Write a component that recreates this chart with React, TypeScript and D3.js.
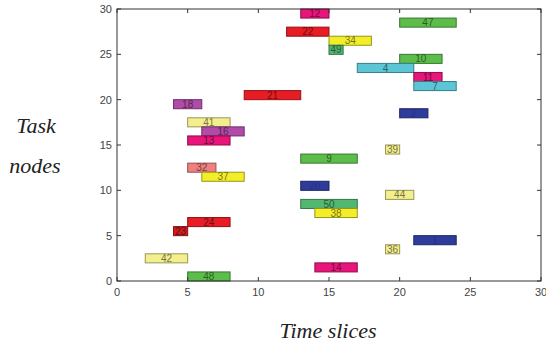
import React from "react";
import * as d3 from "d3";

// Task schedule: each task occupies one row (node) over a span of time slices
const taskIds = ["12", "22", "47", "34", "49", "10", "4", "11", "7", "21", "18", "2", "41", "16", "13", "39", "9", "32", "37", "20", "44", "50", "38", "24", "23", "1", "36", "42", "14", "48"];
const taskStart = [13, 12, 20, 15, 15, 20, 17, 21, 21, 9, 4, 20, 5, 6, 5, 19, 13, 5, 6, 13, 19, 13, 14, 5, 4, 21, 19, 2, 14, 5];
const taskEnd = [15, 15, 24, 18, 16, 23, 21, 23, 24, 13, 6, 22, 8, 9, 8, 20, 17, 7, 9, 15, 21, 17, 17, 8, 5, 24, 20, 5, 17, 8];
const taskNode = [29, 27, 28, 26, 25, 24, 23, 22, 21, 20, 19, 18, 17, 16, 15, 14, 13, 12, 11, 10, 9, 8, 7, 6, 5, 4, 3, 2, 1, 0];
const taskColor = [
  "#e8157a", "#e81c24", "#5cbd4a", "#f2ee2a", "#52b871", "#5cbd4a", "#5cc6d6", "#e8157a", "#5cc6d6", "#e81c24",
  "#b04ca8", "#2e3d9c", "#f3ef8c", "#b04ca8", "#e8157a", "#f3ef8c", "#5cbd4a", "#f08080", "#f2ee2a", "#2e3d9c",
  "#f3ef8c", "#52b871", "#f2ee2a", "#e81c24", "#d01c20", "#2e3d9c", "#f3ef8c", "#f3ef8c", "#e8157a", "#5cbd4a",
];
const xTicks = [0, 5, 10, 15, 20, 25, 30];
const yTicks = [0, 5, 10, 15, 20, 25, 30];

const W = 546;
const H = 349;
const left = 117;
const right = 541;
const top = 9;
const bottom = 281;

export default function App() {
  const x = d3.scaleLinear().domain([0, 30]).range([left, right]);
  const y = d3.scaleLinear().domain([0, 30]).range([bottom, top]);
  const tickLen = 4;
  const tickFont = "'Liberation Sans', Arial, sans-serif";
  const titleFont = "'Liberation Serif', 'Times New Roman', serif";

  return (
    <svg width={W} height={H} style={{ position: "absolute", left: 0, top: 0, background: "#fff" }}>
      <rect x={left} y={top} width={right - left} height={bottom - top} fill="#fff" />
      {taskIds.map((id, i) => {
        const c = d3.color(taskColor[i])!;
        const hsl = d3.hsl(taskColor[i]);
        // dark bars carry labels only slightly darker than the bar itself
        const labelColor = hsl.l < 0.45 ? c.darker(0.5).formatHex() : c.darker(2).formatHex();
        const x0 = x(taskStart[i]);
        const x1 = x(taskEnd[i]);
        const y0 = y(taskNode[i] + 1);
        const y1 = y(taskNode[i]);
        return (
          <g key={id}>
            <rect
              x={x0}
              y={y0}
              width={x1 - x0}
              height={y1 - y0}
              fill={taskColor[i]}
              stroke={c.darker(1.3).formatHex()}
              strokeWidth={1}
            />
            <text
              x={(x0 + x1) / 2}
              y={(y0 + y1) / 2 + 3.6}
              textAnchor="middle"
              fontFamily={tickFont}
              fontSize={10}
              fill={labelColor}
            >
              {id}
            </text>
          </g>
        );
      })}
      {/* box frame */}
      <rect x={left} y={top} width={right - left} height={bottom - top} fill="none" stroke="#333" strokeWidth={1} />
      {/* inward ticks on all four sides */}
      {xTicks.map((t) => (
        <g key={"x" + t}>
          <line x1={x(t)} x2={x(t)} y1={bottom} y2={bottom - tickLen} stroke="#333" />
          <line x1={x(t)} x2={x(t)} y1={top} y2={top + tickLen} stroke="#333" />
          <text x={x(t)} y={296} textAnchor="middle" fontFamily={tickFont} fontSize={11} fill="#444">
            {t}
          </text>
        </g>
      ))}
      {yTicks.map((t) => (
        <g key={"y" + t}>
          <line x1={left} x2={left + tickLen} y1={y(t)} y2={y(t)} stroke="#333" />
          <line x1={right} x2={right - tickLen} y1={y(t)} y2={y(t)} stroke="#333" />
          <text x={112} y={y(t) + 4} textAnchor="end" fontFamily={tickFont} fontSize={11} fill="#444">
            {t}
          </text>
        </g>
      ))}
      <text x={36} y={133} textAnchor="middle" fontFamily={titleFont} fontStyle="italic" fontSize={22} fill="#222">
        Task
      </text>
      <text x={35} y={173} textAnchor="middle" fontFamily={titleFont} fontStyle="italic" fontSize={22} fill="#222">
        nodes
      </text>
      <text x={328} y={338} textAnchor="middle" fontFamily={titleFont} fontStyle="italic" fontSize={22} fill="#222">
        Time slices
      </text>
    </svg>
  );
}
